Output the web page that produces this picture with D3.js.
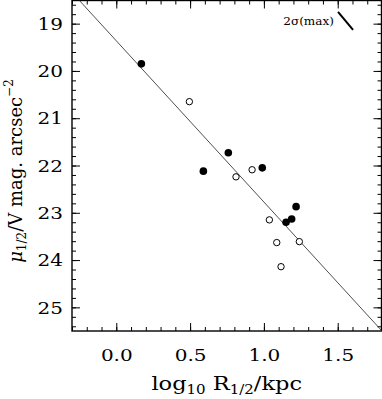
<!DOCTYPE html>
<html>
<head>
<meta charset="utf-8">
<script src="https://cdn.jsdelivr.net/npm/d3@7"></script>
<style>
  html, body { margin: 0; padding: 0; background: #fff; }
  svg { display: block; }
  text { font-family: "DejaVu Serif", "Liberation Serif", serif; fill: #000; }
</style>
</head>
<body>
<svg id="chart" width="382" height="399"></svg>
<script>
// ---- data ----
const filledX = [0.170, 0.590, 0.759, 0.989, 1.218, 1.188, 1.150];
const filledY = [19.85, 22.12, 21.73, 22.05, 22.87, 23.13, 23.20];
const openX   = [0.495, 0.811, 0.920, 1.037, 1.087, 1.116, 1.240];
const openY   = [20.65, 22.24, 22.09, 23.15, 23.63, 24.14, 23.61];
const fitX = [-0.253, 1.80];
const fitY = [18.50, 25.50];
const xTicks = [0.0, 0.5, 1.0, 1.5];
const xTickLabels = ["0.0", "0.5", "1.0", "1.5"];
const yTicks = [19, 20, 21, 22, 23, 24, 25];
const yTickLabels = ["19", "20", "21", "22", "23", "24", "25"];
const sigmaX = [1.502, 1.604];   // 2σ(max) error indicator ends
const sigmaY = [18.75, 19.13];
const sigmaLabel = "2σ(max)";

// ---- layout ----
const L = 72, R = 381.5, T = 0.5, B = 331;
const x = d3.scaleLinear().domain([-0.3, 1.8]).range([L, R + 0.5]);
const y = d3.scaleLinear().domain([18.5, 25.5]).range([0, B]);

const svg = d3.select("#chart");
const defs = svg.append("defs");
defs.append("clipPath").attr("id", "clip")
  .append("rect").attr("x", L).attr("y", T).attr("width", R - L).attr("height", B - T);

// minor tick arrays
const xMinor = d3.range(-0.3, 1.8001, 0.1).map(v => +v.toFixed(2));
const yMinor = d3.range(18.6, 25.5, 0.2).map(v => +v.toFixed(2));

// bottom axis
const gB = svg.append("g").attr("transform", `translate(0,${B})`);
gB.call(d3.axisBottom(x).tickValues(xMinor).tickSize(-4).tickFormat(""));
gB.call(g => g.append("g").call(d3.axisBottom(x).tickValues(xTicks).tickSize(-8)
   .tickFormat((d, i) => xTickLabels[i])));
// top axis
const gT = svg.append("g").attr("transform", `translate(0,${T})`);
gT.call(d3.axisTop(x).tickValues(xMinor).tickSize(-4).tickFormat(""));
gT.call(g => g.append("g").call(d3.axisTop(x).tickValues(xTicks).tickSize(-8).tickFormat("")));
// left axis
const gL = svg.append("g").attr("transform", `translate(${L},0)`);
gL.call(d3.axisLeft(y).tickValues(yMinor).tickSize(-4).tickFormat(""));
gL.call(g => g.append("g").call(d3.axisLeft(y).tickValues(yTicks).tickSize(-8)
   .tickFormat((d, i) => yTickLabels[i])));
// right axis
const gR = svg.append("g").attr("transform", `translate(${R},0)`);
gR.call(d3.axisRight(y).tickValues(yMinor).tickSize(-4).tickFormat(""));
gR.call(g => g.append("g").call(d3.axisRight(y).tickValues(yTicks).tickSize(-8).tickFormat("")));

svg.selectAll(".domain").remove();
svg.selectAll(".tick line").attr("stroke", "#000").attr("stroke-width", 1);
svg.selectAll(".tick text").style("font-size", "16px").style("font-family", '"DejaVu Serif", serif');
gB.selectAll(".tick text").attr("dy", null).attr("y", 0)
  .attr("transform", "translate(0,30) scale(1.25,1)");
gL.selectAll(".tick text").attr("x", 0).attr("dy", "0.36em")
  .attr("transform", "translate(-9,0) scale(1.25,1)");

// frame
svg.append("rect").attr("x", L).attr("y", T).attr("width", R - L).attr("height", B - T)
  .attr("fill", "none").attr("stroke", "#000").attr("stroke-width", 1.4);

// fit line
const fitData = fitX.map((v, i) => ({ x: v, y: fitY[i] }));
svg.append("path").datum(fitData)
  .attr("clip-path", "url(#clip)")
  .attr("d", d3.line().x(d => x(d.x)).y(d => y(d.y)))
  .attr("fill", "none").attr("stroke", "#222").attr("stroke-width", 0.8);

// points
const filled = filledX.map((v, i) => ({ x: v, y: filledY[i] }));
const open = openX.map((v, i) => ({ x: v, y: openY[i] }));
svg.append("g").selectAll("circle").data(open).join("circle")
  .attr("cx", d => x(d.x)).attr("cy", d => y(d.y)).attr("r", 3.2)
  .attr("fill", "#fff").attr("stroke", "#000").attr("stroke-width", 1);
svg.append("g").selectAll("circle").data(filled).join("circle")
  .attr("cx", d => x(d.x)).attr("cy", d => y(d.y)).attr("r", 3.8)
  .attr("fill", "#000");

// 2σ(max) indicator
const sig = sigmaX.map((v, i) => ({ x: v, y: sigmaY[i] }));
svg.append("path").datum(sig)
  .attr("d", d3.line().x(d => x(d.x)).y(d => y(d.y)))
  .attr("stroke", "#000").attr("stroke-width", 2).attr("fill", "none");
svg.append("text")
  .attr("transform", `translate(${x(sigmaX[0]) - 4},${y(d3.mean(sigmaY)) + 4}) scale(1.15,1)`)
  .attr("text-anchor", "end").style("font-size", "10.5px").text(sigmaLabel);

// x title
const xt = svg.append("text")
  .attr("transform", `translate(${(L + R) / 2},390) scale(1.25,1)`)
  .attr("text-anchor", "middle").style("font-size", "18px");
xt.append("tspan").text("log");
xt.append("tspan").attr("dy", 4).style("font-size", "12px").text("10");
xt.append("tspan").attr("dy", -4).text(" R");
xt.append("tspan").attr("dy", 4).style("font-size", "12px").text("1/2");
xt.append("tspan").attr("dy", -4).text("/kpc");

// y title
const yt = svg.append("text").attr("transform", `translate(22,${171}) rotate(-90)`)
  .attr("text-anchor", "middle").style("font-size", "18px");
yt.append("tspan").style("font-style", "italic").text("μ");
yt.append("tspan").attr("dy", 4).style("font-size", "12px").text("1/2");
yt.append("tspan").attr("dy", -4).text("/V mag. arcsec");
yt.append("tspan").attr("dy", -9).style("font-size", "12px").text("−2");
</script>
</body>
</html>
